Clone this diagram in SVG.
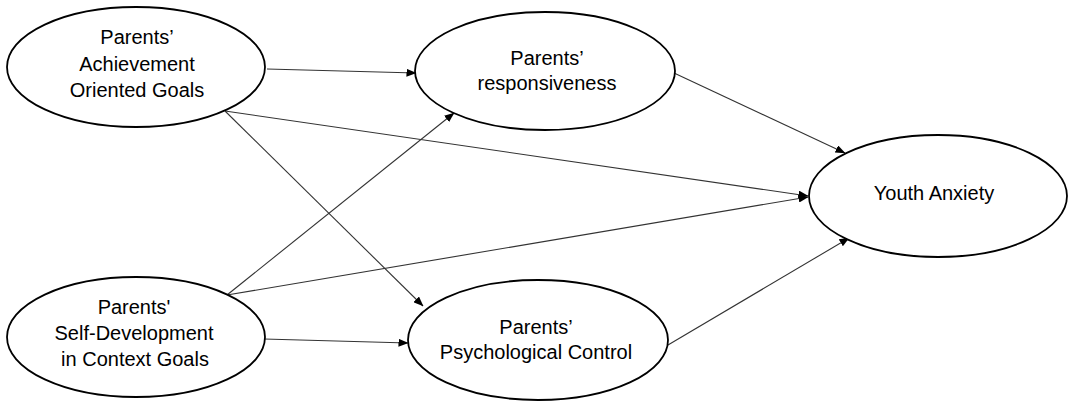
<svg xmlns="http://www.w3.org/2000/svg" width="1069" height="402" viewBox="0 0 1069 402">
<style>
.node{fill:#fff;stroke:#000;stroke-width:1.8}
.lbl{font-family:"Liberation Sans",Arial,sans-serif;font-size:20px;fill:#000;text-anchor:middle}
.edge{stroke:#333;stroke-width:1.1;fill:none;marker-end:url(#ah)}
</style>
<defs>
<marker id="ah" markerWidth="10" markerHeight="8" refX="9.5" refY="4" orient="auto" markerUnits="userSpaceOnUse">
<path d="M0,0 L10,4 L0,8 Z" fill="#000"/>
</marker>
</defs>
<rect width="1069" height="402" fill="#fff"/>
<g id="connectors">
<line class="edge" x1="267" y1="69" x2="416" y2="73"/>
<line class="edge" x1="225" y1="111" x2="808" y2="196"/>
<line class="edge" x1="225" y1="111" x2="423" y2="306"/>
<line class="edge" x1="227" y1="295" x2="454" y2="113"/>
<line class="edge" x1="227" y1="295" x2="808" y2="197"/>
<line class="edge" x1="264" y1="339" x2="408" y2="343"/>
<line class="edge" x1="674" y1="73" x2="845" y2="153"/>
<line class="edge" x1="668" y1="345" x2="849" y2="238"/>
</g>
<g id="n_achievement">
<ellipse class="node" cx="136" cy="67" rx="129" ry="60"/>
<text class="lbl" x="137" y="44">Parents’</text>
<text class="lbl" x="137" y="71">Achievement</text>
<text class="lbl" x="137" y="97">Oriented Goals</text>
</g>
<g id="n_responsiveness">
<ellipse class="node" cx="545" cy="71" rx="130" ry="59"/>
<text class="lbl" x="547" y="65">Parents’</text>
<text class="lbl" x="547" y="90">responsiveness</text>
</g>
<g id="n_anxiety">
<ellipse class="node" cx="938" cy="196" rx="129" ry="61"/>
<text class="lbl" x="934" y="200">Youth Anxiety</text>
</g>
<g id="n_selfdev">
<ellipse class="node" cx="136" cy="337" rx="129" ry="60"/>
<text class="lbl" x="134" y="314">Parents'</text>
<text class="lbl" x="134" y="340">Self-Development</text>
<text class="lbl" x="135" y="366">in Context Goals</text>
</g>
<g id="n_psychcontrol">
<ellipse class="node" cx="538" cy="340" rx="130" ry="60"/>
<text class="lbl" x="536" y="334">Parents’</text>
<text class="lbl" x="536" y="359">Psychological Control</text>
</g>
</svg>
